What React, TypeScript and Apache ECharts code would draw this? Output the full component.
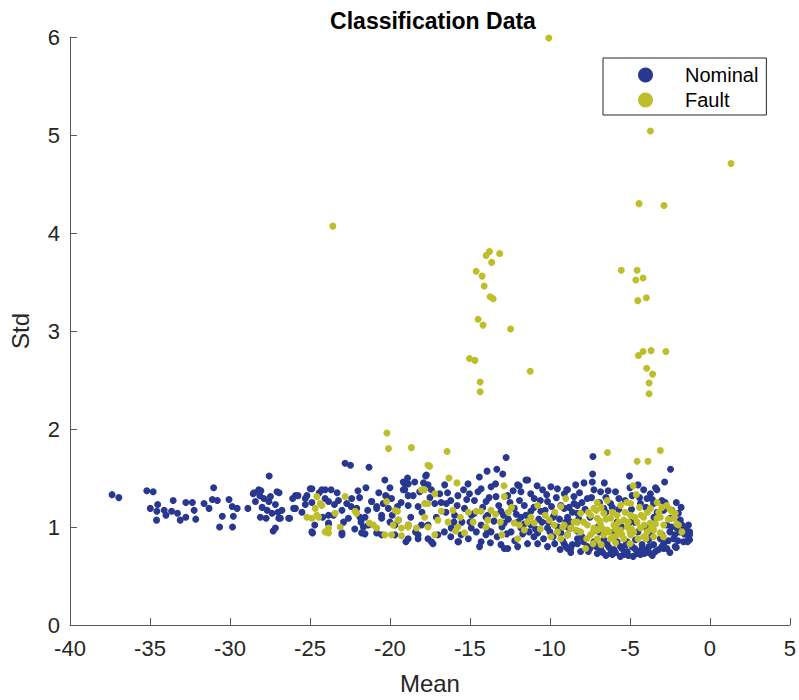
import React, { useEffect, useRef } from "react";
import * as echarts from "echarts";

// ---- Data (Mean, Std) ----
const nominalFarLeft: number[][] = [
  [-37.37, 1.33], [-36.95, 1.30], [-35.2, 1.37], [-34.8, 1.36], [-34.98, 1.19], [-34.52, 1.23], [-34.57, 1.16],
  [-34.59, 1.07], [-34.11, 1.17], [-34.0, 1.12], [-33.55, 1.27], [-33.65, 1.16], [-33.28, 1.14], [-33.11, 1.07],
  [-32.76, 1.10], [-32.76, 1.25], [-32.35, 1.25], [-32.24, 1.17], [-32.14, 1.08], [-31.62, 1.24], [-31.31, 1.19],
  [-31.02, 1.40], [-31.1, 1.28], [-30.79, 1.27], [-30.48, 1.11], [-30.65, 1.00], [-30.06, 1.28], [-29.86, 1.21],
  [-29.79, 1.11], [-29.84, 1.00], [-29.55, 1.19], [-28.88, 1.19], [-28.55, 1.34], [-28.2, 1.38], [-28.41, 1.26],
  [-28.1, 1.10], [-27.55, 1.52],
];

const nominalLeft: number[][] = [
  [-28.07, 1.37], [-28.5, 1.35], [-28.13, 1.32], [-27.88, 1.29], [-27.57, 1.26], [-27.16, 1.23], [-27.99, 1.20],
  [-27.68, 1.17], [-27.37, 1.14], [-27.74, 1.09], [-27.0, 1.15], [-26.85, 1.09], [-27.3, 0.96], [-26.93, 1.35],
  [-26.27, 1.09], [-26.02, 1.19], [-26.08, 1.29], [-25.75, 1.32], [-25.19, 1.32], [-24.98, 1.39], [-25.29, 1.23],
  [-24.88, 1.25], [-24.84, 0.94], [-24.42, 1.35], [-24.05, 1.38], [-23.68, 1.38], [-23.84, 1.26], [-23.47, 1.23],
  [-23.84, 1.12], [-23.84, 1.03], [-23.0, 0.94], [-22.8, 1.65], [-22.47, 1.63], [-23.22, 1.27], [-22.7, 1.24],
  [-22.39, 1.29], [-22.43, 1.21], [-22.08, 1.19], [-22.6, 1.09], [-21.87, 1.10], [-21.66, 1.00], [-21.31, 1.61],
  [-21.15, 1.26], [-20.83, 1.21], [-20.52, 1.12], [-21.56, 0.93], [-20.32, 1.48], [-20.21, 1.31], [-20.42, 1.24],
  [-20.1, 1.19], [-19.86, 1.12], [-19.69, 1.02], [-20.52, 0.92], [-19.69, 0.92], [-19.07, 1.44], [-19.17, 1.38],
  [-18.86, 1.32], [-27.47, 1.31], [-27.06, 1.36], [-26.75, 1.17], [-26.95, 1.09], [-26.33, 1.09], [-27.16, 0.99],
  [-25.91, 1.32], [-25.29, 1.29], [-24.88, 1.39], [-24.26, 1.38], [-24.05, 1.29], [-25.91, 1.19], [-24.88, 0.95],
  [-23.84, 1.04], [-23.0, 0.92], [-23.53, 1.12], [-23.0, 1.17], [-21.77, 0.94], [-21.35, 1.02], [-20.83, 1.19],
  [-21.56, 1.10], [-21.39, 1.17], [-21.14, 1.26], [-21.81, 1.05],
  [-25.5, 1.15], [-24.7, 1.02], [-24.2, 1.10], [-23.3, 1.35], [-22.9, 1.05], [-22.2, 0.98], [-21.9, 1.30],
  [-21.5, 1.40], [-20.7, 1.35], [-20.0, 1.05], [-19.3, 1.25], [-18.7, 1.10], [-18.4, 0.95], [-18.0, 1.15],
  [-17.5, 1.30], [-17.1, 1.10], [-16.8, 1.25], [-16.4, 1.35], [-16.2, 0.90], [-19.0, 0.85], [-20.0, 1.40],
  [-22.0, 1.37], [-18.9, 1.50], [-17.9, 1.45],
];

const nominalMid: number[][] = [
  [-20.27, 1.32], [-19.9, 1.29], [-19.17, 1.46], [-18.86, 1.44], [-18.45, 1.46], [-19.07, 1.38], [-18.55, 1.32],
  [-18.14, 1.36], [-17.77, 1.52], [-17.62, 1.43], [-19.53, 1.21], [-18.86, 1.22], [-18.24, 1.21], [-19.48, 1.07],
  [-18.86, 1.02], [-18.03, 1.02], [-17.62, 0.88], [-18.24, 0.92], [-20.52, 1.09], [-20.83, 0.94],
  [-17.41, 1.38], [-16.58, 1.43], [-16.89, 1.34], [-17.2, 1.24], [-16.48, 1.24], [-15.75, 1.32], [-15.12, 1.44],
  [-15.03, 1.34], [-14.41, 1.51], [-13.93, 1.57], [-13.32, 1.59], [-12.95, 1.54], [-12.74, 1.71], [-14.3, 1.39],
  [-13.68, 1.41], [-14.72, 1.27], [-13.99, 1.26], [-13.37, 1.31], [-12.64, 1.32], [-12.02, 1.43], [-11.81, 1.36],
  [-11.39, 1.48], [-11.6, 1.22], [-10.98, 1.29], [-10.46, 1.38], [-9.94, 1.41], [-9.53, 1.39], [-8.9, 1.38],
  [-8.39, 1.43], [-10.15, 1.26], [-9.32, 1.22], [-8.49, 1.24], [-15.96, 1.12], [-15.34, 1.19], [-14.72, 1.14],
  [-13.89, 1.12], [-13.06, 1.16], [-12.23, 1.19], [-11.81, 1.10], [-11.19, 1.16], [-10.57, 1.16], [-9.74, 1.12],
  [-8.9, 1.10], [-8.28, 1.14], [-17.62, 1.02], [-17.0, 0.92], [-16.17, 0.99], [-15.55, 0.92], [-14.92, 0.99],
  [-14.3, 1.02], [-13.68, 0.95], [-12.85, 1.04], [-12.43, 0.95], [-11.81, 0.99], [-11.19, 1.02], [-10.77, 0.94],
  [-10.15, 0.99], [-9.32, 0.94], [-8.7, 0.99], [-8.28, 0.88], [-17.41, 0.85], [-15.75, 0.85], [-14.3, 0.85],
  [-13.06, 0.82], [-12.02, 0.80], [-10.77, 0.83], [-10.15, 0.80], [-8.9, 0.78], [-12.64, 0.78], [-11.5, 1.48],
  [-11.92, 1.42], [-13.72, 0.84], [-12.85, 0.78], [-9.36, 0.77], [-8.7, 0.74], [-18.86, 0.88], [-18.24, 0.88],
  [-17.31, 0.83], [-15.71, 0.85], [-17.72, 1.53], [-9.5, 1.0], [-9.8, 0.9], [-9.0, 1.05], [-10.5, 1.05],
  [-11.0, 0.9], [-12.0, 1.05], [-13.0, 1.0], [-14.0, 1.1], [-15.0, 1.05], [-16.0, 1.05], [-16.5, 1.15],
  [-15.8, 1.22], [-15.5, 1.05], [-15.2, 1.28], [-14.9, 1.12], [-14.6, 0.95], [-14.5, 1.36], [-14.2, 1.20],
  [-14.0, 0.92], [-13.8, 1.30], [-13.5, 1.06], [-13.3, 0.90], [-13.2, 1.22], [-12.9, 1.12], [-12.7, 0.93],
  [-12.5, 1.25], [-12.3, 1.37], [-12.2, 0.86], [-16.2, 1.27], [-16.6, 0.95], [-15.1, 0.88], [-14.4, 0.80],
  [-13.9, 0.97], [-12.6, 1.08], [-15.4, 1.38], [-13.4, 1.44], [-11.9, 1.27], [-11.7, 0.93], [-11.5, 1.12],
  [-11.4, 0.83], [-11.2, 1.34], [-11.0, 1.20], [-10.9, 0.98], [-10.7, 1.08], [-10.6, 1.27], [-10.4, 0.88],
  [-10.3, 1.17], [-10.2, 1.33], [-10.0, 0.95], [-9.9, 1.21], [-9.7, 0.83], [-9.6, 1.30], [-9.4, 1.08],
  [-9.2, 0.86], [-9.1, 1.34], [-8.9, 1.00], [-8.8, 1.20], [-8.6, 0.82], [-8.5, 1.31], [-8.3, 0.96],
  [-8.2, 1.08], [-8.0, 1.25], [-11.3, 0.95], [-10.8, 1.42], [-9.8, 1.10], [-9.0, 0.80], [-12.1, 1.13],
  [-11.6, 1.03], [-10.1, 1.05], [-9.45, 0.97],
];

const nominalRight: number[][] = [
  [-7.31, 1.72], [-7.33, 1.54], [-7.35, 1.46], [-5.03, 1.52], [-4.49, 1.43], [-2.83, 1.46], [-2.46, 1.59],
  [-7.87, 1.45], [-8.95, 1.38], [-7.25, 1.38], [-6.83, 1.36], [-6.36, 1.37], [-7.66, 1.29], [-8.28, 1.22],
  [-5.69, 1.29], [-3.72, 1.34], [-3.31, 1.38], [-3.0, 1.27], [-3.52, 1.24], [-1.85, 1.07], [-1.75, 1.02],
  [-1.34, 1.02], [-1.27, 0.95], [-1.34, 0.88], [-1.65, 0.85], [-2.17, 0.80], [-2.27, 0.88], [-2.69, 1.02],
  [-2.48, 1.09], [-2.07, 0.99], [-8.28, 0.83], [-7.66, 0.80], [-7.25, 0.85], [-6.83, 0.78], [-6.42, 0.82],
  [-6.0, 0.77], [-5.59, 0.80], [-5.17, 0.75], [-4.86, 0.80], [-4.55, 0.75], [-4.24, 0.82], [-3.93, 0.77],
  [-3.52, 0.82], [-3.2, 0.77], [-2.89, 0.83], [-2.69, 0.78], [-5.38, 0.72], [-6.21, 0.73], [-7.04, 0.73],
  [-4.34, 0.72], [-3.72, 0.73], [-8.9, 0.92], [-9.11, 0.83], [-8.7, 0.78], [-8.08, 0.75], [-6.63, 0.87],
  [-5.8, 0.85], [-4.65, 0.87], [-3.83, 0.87], [-3.1, 0.88], [-5.17, 0.85], [-9.11, 1.19], [-8.7, 1.05],
  [-4.14, 1.38], [-3.93, 1.29], [-4.86, 1.32], [-6.21, 1.24], [-6.63, 1.19], [-4.34, 1.24], [-2.38, 1.17],
  [-1.97, 1.14], [-2.89, 1.17], [-1.27, 0.92], [-1.27, 0.87], [-2.1, 0.79], [-6.1, 0.72], [-4.55, 0.73],
  [-3.83, 0.74], [-2.89, 0.78], [-7.0, 1.0], [-6.0, 0.95], [-5.0, 1.05], [-4.0, 1.0], [-3.0, 0.92],
  [-7.5, 1.1], [-6.5, 1.15], [-5.5, 1.0], [-4.5, 0.95], [-3.5, 1.1], [-2.5, 0.95], [-8.0, 0.9],
  [-7.9, 0.85], [-7.8, 1.18], [-7.6, 0.75], [-7.4, 1.30], [-7.1, 0.80], [-6.9, 1.25], [-6.7, 0.74],
  [-6.5, 1.30], [-6.3, 0.79], [-6.1, 1.20], [-5.9, 0.74], [-5.7, 1.18], [-5.5, 0.78], [-5.3, 1.27],
  [-5.1, 0.71], [-4.9, 1.18], [-4.7, 0.78], [-4.4, 1.30], [-4.1, 0.73], [-4.0, 1.20], [-3.8, 0.80],
  [-3.6, 1.28], [-3.4, 0.75], [-3.3, 1.15], [-3.0, 0.80], [-2.8, 1.25], [-2.6, 0.86], [-2.4, 1.00],
  [-2.2, 0.92], [-2.0, 0.86], [-1.9, 0.95], [-1.6, 0.93], [-1.5, 0.98], [-1.4, 0.85], [-1.6, 1.00],
  [-5.6, 0.70], [-4.8, 0.70], [-6.5, 0.71], [-3.6, 0.71], [-2.5, 0.74], [-7.5, 0.78], [-5.25, 0.82],
  [-4.25, 0.78], [-6.9, 0.95], [-8.6, 1.15], [-8.15, 1.35], [-5.9, 1.36], [-5.0, 1.40], [-3.4, 1.40],
  [-6.6, 1.45], [-2.1, 1.25], [-1.8, 1.20], [-4.7, 1.05], [-5.8, 1.05], [-3.7, 0.94],
];

const faultCluster: number[][] = [
  [-25.19, 1.10], [-24.88, 1.09], [-24.46, 1.10], [-24.67, 1.19], [-24.26, 1.22], [-24.57, 1.31], [-24.05, 0.95],
  [-23.84, 0.99], [-23.43, 1.14], [-22.8, 1.31], [-23.11, 1.00], [-22.18, 1.16], [-21.04, 1.02], [-20.83, 0.99],
  [-20.21, 1.26], [-20.32, 0.92], [-19.9, 0.92], [-19.69, 1.17], [-19.48, 1.07], [-19.28, 0.99], [-18.86, 1.02],
  [-24.57, 1.12], [-24.36, 1.24], [-23.84, 0.94], [-22.08, 1.14], [-21.29, 1.04], [-19.53, 1.16], [-19.8, 1.02],
  [-19.28, 0.91], [-18.86, 1.00], [-18.34, 0.99], [-17.83, 1.24], [-17.62, 1.63], [-17.83, 1.38],
  [-18.66, 1.81], [-20.09, 1.80], [-20.19, 1.96], [-16.43, 1.77], [-17.52, 1.62], [-16.31, 1.50], [-15.81, 1.45],
  [-12.87, 1.42], [-18.03, 1.38], [-17.2, 1.34], [-17.62, 1.24], [-16.79, 1.16], [-16.06, 1.17], [-17.83, 1.10],
  [-17.0, 1.07], [-16.37, 1.05], [-15.75, 1.00], [-17.62, 1.00], [-17.2, 0.92], [-15.34, 0.94], [-14.61, 1.16],
  [-14.3, 1.16], [-13.89, 1.07], [-13.68, 1.17], [-12.85, 1.31], [-12.23, 1.04], [-11.91, 1.02], [-12.02, 0.88],
  [-11.19, 1.10], [-10.77, 1.22], [-10.98, 1.04], [-10.04, 1.07], [-9.74, 1.02], [-9.32, 1.21], [-9.01, 1.29],
  [-9.53, 0.95], [-9.94, 0.90], [-8.9, 0.92], [-8.49, 1.05], [-8.39, 0.97],
  [-15.6, 1.10], [-15.1, 1.15], [-14.8, 1.05], [-14.0, 1.00], [-13.4, 1.13], [-13.1, 1.05], [-12.6, 1.15],
  [-11.6, 0.97], [-11.4, 1.05], [-10.6, 0.98], [-10.3, 1.12], [-9.7, 1.15], [-9.2, 1.00], [-12.4, 1.20],
  [-15.9, 0.96], [-13.0, 0.92],
];

const faultBlob: number[][] = [
  [-6.4, 1.76], [-4.55, 1.67], [-3.87, 1.67], [-3.1, 1.78], [-4.8, 1.42], [-4.6, 1.33],
  [-7.04, 1.25], [-6.42, 1.27], [-5.59, 1.22], [-4.96, 1.24], [-3.72, 1.19], [-3.0, 1.20], [-2.38, 1.16],
  [-2.17, 1.14], [-2.27, 1.09], [-3.1, 1.10], [-1.97, 1.02], [-1.75, 0.95], [-7.46, 1.12], [-7.04, 1.09],
  [-6.63, 1.14], [-6.21, 1.09], [-5.8, 1.12], [-5.38, 1.07], [-4.96, 1.12], [-4.55, 1.05], [-4.14, 1.10],
  [-3.72, 1.04], [-3.31, 1.09], [-2.89, 1.02], [-7.66, 1.02], [-7.25, 0.99], [-6.83, 1.02], [-6.42, 0.97],
  [-6.0, 1.02], [-5.59, 0.97], [-5.17, 1.00], [-4.76, 0.95], [-4.34, 0.99], [-3.93, 0.95], [-3.52, 0.97],
  [-3.1, 0.94], [-7.46, 0.92], [-7.04, 0.88], [-6.63, 0.92], [-6.21, 0.88], [-5.8, 0.92], [-5.38, 0.88],
  [-4.96, 0.92], [-4.14, 0.90], [-3.52, 0.90], [-9.11, 1.02], [-8.7, 0.99], [-8.28, 1.05], [-8.08, 0.95],
  [-7.77, 0.78], [-7.25, 1.19], [-8.08, 1.14], [-9.32, 0.88], [-2.07, 1.03], [-7.3, 0.83], [-6.8, 0.82],
  [-5.9, 0.84], [-5.0, 0.83],
  [-7.9, 1.05], [-7.6, 1.15], [-7.3, 0.95], [-7.1, 1.17], [-6.9, 1.06], [-6.7, 0.98], [-6.5, 1.08],
  [-6.3, 0.95], [-6.1, 1.15], [-5.9, 0.98], [-5.7, 1.05], [-5.5, 0.92], [-5.3, 1.15], [-5.1, 1.05],
  [-4.9, 0.98], [-4.7, 1.10], [-4.5, 0.88], [-4.3, 1.12], [-4.1, 1.02], [-3.9, 1.15], [-3.7, 0.98],
  [-3.4, 1.03], [-3.2, 1.15], [-2.9, 0.90], [-2.6, 1.08], [-2.5, 1.18], [-7.0, 0.97], [-6.0, 0.90],
  [-5.0, 0.95], [-4.0, 0.88], [-6.8, 1.20], [-5.2, 1.25], [-4.4, 1.20], [-7.7, 0.88], [-3.3, 1.25],
  [-2.7, 1.22],
];

const faultOutliers: number[][] = [
  [-10.07, 5.99], [-3.72, 5.04], [1.32, 4.71], [-4.43, 4.30], [-2.87, 4.28], [-23.57, 4.07], [-13.78, 3.81],
  [-13.99, 3.77], [-13.14, 3.79], [-13.64, 3.70], [-14.61, 3.61], [-14.24, 3.56], [-14.11, 3.46], [-13.74, 3.35],
  [-13.55, 3.33], [-14.49, 3.12], [-14.18, 3.06], [-12.46, 3.02], [-15.03, 2.72], [-14.69, 2.70], [-11.23, 2.59],
  [-14.36, 2.48], [-14.36, 2.38], [-5.54, 3.62], [-4.55, 3.62], [-4.63, 3.52], [-4.18, 3.54], [-4.51, 3.31],
  [-3.97, 3.34], [-4.18, 2.79], [-4.47, 2.75], [-3.68, 2.80], [-2.75, 2.79], [-3.95, 2.62], [-3.58, 2.56],
  [-3.80, 2.47], [-3.80, 2.36],
];

const seriesNames = ["Nominal", "Fault"];
const seriesColors = ["#283891", "#BEBE2A"];

const FONT = "'Liberation Sans', Arial, Helvetica, sans-serif";

export default function App() {
  const ref = useRef<HTMLDivElement>(null);
  useEffect(() => {
    document.body.style.margin = "0";
    if (!ref.current) return;
    const chart = echarts.init(ref.current, undefined, { renderer: "svg" });
    const nominal = [...nominalFarLeft, ...nominalLeft, ...nominalMid, ...nominalRight];
    const fault = [...faultCluster, ...faultBlob, ...faultOutliers];
    chart.setOption({
      animation: false,
      backgroundColor: "#ffffff",
      textStyle: { fontFamily: FONT },
      title: {
        text: "Classification Data",
        left: 428,
        top: 4,
        textAlign: "center",
        textStyle: { fontFamily: FONT, fontSize: 23, fontWeight: "bold", color: "#000000" },
      },
      legend: {
        data: seriesNames.map((n) => ({ name: n, icon: "circle" })),
        orient: "vertical",
        left: 603,
        top: 58,
        padding: [7, 8, 5, 35],
        itemWidth: 15,
        itemHeight: 15,
        itemGap: 5,
        backgroundColor: "#ffffff",
        borderColor: "#262626",
        borderWidth: 1,
        borderRadius: 0,
        textStyle: { fontFamily: FONT, fontSize: 20, color: "#000000", padding: [0, 0, 0, 27] },
      },
      grid: { left: 67, right: 9, top: 37, bottom: 73, containLabel: false },
      xAxis: {
        type: "value",
        min: -40,
        max: 5,
        interval: 5,
        name: "Mean",
        nameLocation: "middle",
        nameGap: 46,
        nameTextStyle: { fontFamily: FONT, fontSize: 24, color: "#262626" },
        axisLine: { show: true, onZero: false, lineStyle: { color: "#595959", width: 1 } },
        axisTick: { show: true, inside: true, length: 7, lineStyle: { color: "#595959" } },
        axisLabel: { fontFamily: FONT, fontSize: 22, color: "#262626", margin: 12 },
        splitLine: { show: false },
      },
      yAxis: {
        type: "value",
        min: 0,
        max: 6,
        interval: 1,
        name: "Std",
        nameLocation: "middle",
        nameGap: 38,
        nameRotate: 90,
        nameTextStyle: { fontFamily: FONT, fontSize: 24, color: "#262626" },
        axisLine: { show: true, onZero: false, lineStyle: { color: "#595959", width: 1 } },
        axisTick: { show: true, inside: true, length: 7, lineStyle: { color: "#595959" } },
        axisLabel: { fontFamily: FONT, fontSize: 22, color: "#262626", margin: 10 },
        splitLine: { show: false },
      },
      series: [
        {
          name: seriesNames[0],
          type: "scatter",
          data: nominal,
          symbol: "circle",
          symbolSize: 7,
          itemStyle: { color: seriesColors[0], opacity: 1 },
        },
        {
          name: seriesNames[1],
          type: "scatter",
          data: fault,
          symbol: "circle",
          symbolSize: 7,
          itemStyle: { color: seriesColors[1], opacity: 1 },
        },
      ],
    });
    return () => chart.dispose();
  }, []);
  return <div ref={ref} style={{ width: 799, height: 700 }} />;
}
